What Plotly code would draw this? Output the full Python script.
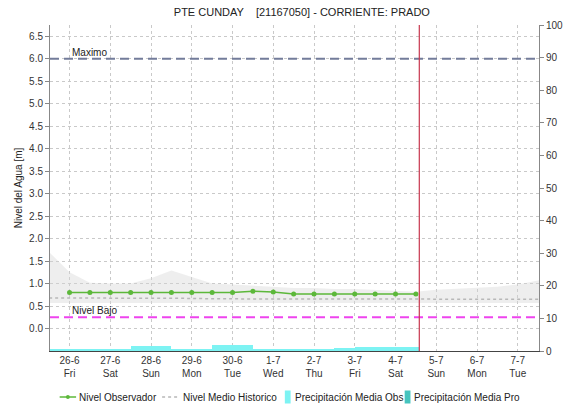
import plotly.graph_objects as go

# ---- data -------------------------------------------------------------
day_ticks = ["2015-06-26", "2015-06-27", "2015-06-28", "2015-06-29", "2015-06-30",
             "2015-07-01", "2015-07-02", "2015-07-03", "2015-07-04", "2015-07-05",
             "2015-07-06", "2015-07-07"]
day_labels = ["26-6<br>Fri", "27-6<br>Sat", "28-6<br>Sun", "29-6<br>Mon", "30-6<br>Tue",
              "1-7<br>Wed", "2-7<br>Thu", "3-7<br>Fri", "4-7<br>Sat", "5-7<br>Sun",
              "6-7<br>Mon", "7-7<br>Tue"]

obs_time = ["2015-06-26 00:00", "2015-06-26 12:00", "2015-06-27 00:00", "2015-06-27 12:00",
            "2015-06-28 00:00", "2015-06-28 12:00", "2015-06-29 00:00", "2015-06-29 12:00",
            "2015-06-30 00:00", "2015-06-30 12:00", "2015-07-01 00:00", "2015-07-01 12:00",
            "2015-07-02 00:00", "2015-07-02 12:00", "2015-07-03 00:00", "2015-07-03 12:00",
            "2015-07-04 00:00", "2015-07-04 12:00"]
obs_level = [0.80, 0.80, 0.80, 0.80, 0.80, 0.80, 0.80, 0.80,
             0.80, 0.83, 0.81, 0.77, 0.77, 0.77, 0.77, 0.77, 0.77, 0.77]

hist_time = ["2015-06-25 12:00", "2015-06-26 00:00", "2015-06-26 12:00", "2015-06-27 00:00",
             "2015-06-27 12:00", "2015-06-28 00:00", "2015-06-28 12:00", "2015-06-29 00:00",
             "2015-06-29 12:00", "2015-06-30 00:00", "2015-06-30 12:00", "2015-07-01 00:00",
             "2015-07-01 12:00", "2015-07-02 00:00", "2015-07-02 12:00", "2015-07-03 00:00",
             "2015-07-03 12:00", "2015-07-04 00:00", "2015-07-04 12:00", "2015-07-05 00:00",
             "2015-07-05 12:00", "2015-07-06 00:00", "2015-07-06 12:00", "2015-07-07 00:00",
             "2015-07-07 12:00", "2015-07-08 00:00"]
hist_max = [1.70, 1.25, 1.02, 1.00, 1.00, 1.12, 1.29, 1.15, 1.00, 0.98, 0.95, 0.93,
            0.90, 0.90, 0.88, 0.88, 0.86, 0.84, 0.82, 0.86, 0.88, 0.90, 0.93, 0.98,
            1.07, 1.10]
hist_min = [0.57, 0.57, 0.57, 0.57, 0.57, 0.57, 0.57, 0.57, 0.57, 0.57, 0.57, 0.57,
            0.57, 0.57, 0.57, 0.57, 0.57, 0.57, 0.57, 0.57, 0.57, 0.57, 0.57, 0.57,
            0.57, 0.57]
hist_mean = [0.68, 0.68, 0.67, 0.67, 0.67, 0.67, 0.67, 0.67, 0.66, 0.66, 0.66, 0.66,
             0.66, 0.66, 0.66, 0.65, 0.65, 0.65, 0.65, 0.65, 0.65, 0.65, 0.65, 0.65,
             0.65, 0.65]

precip_time = ["2015-06-25 18:00", "2015-06-26 06:00", "2015-06-26 18:00", "2015-06-27 06:00",
               "2015-06-27 18:00", "2015-06-28 06:00", "2015-06-28 18:00", "2015-06-29 06:00",
               "2015-06-29 18:00", "2015-06-30 06:00", "2015-06-30 18:00", "2015-07-01 06:00",
               "2015-07-01 18:00", "2015-07-02 06:00", "2015-07-02 18:00", "2015-07-03 06:00",
               "2015-07-03 18:00", "2015-07-04 06:00"]
precip_obs = [0.4, 0.4, 0.6, 0.6, 1.4, 1.4, 0.7, 0.7, 1.8, 1.8, 0.7, 0.6,
              0.5, 0.6, 1.0, 1.1, 1.2, 1.3]
precip_tail_time = ["2015-07-04 13:00"]
precip_tail = [1.3]

pro_time = ["2015-07-05 06:00", "2015-07-05 18:00", "2015-07-06 06:00",
            "2015-07-06 18:00", "2015-07-07 06:00"]
pro_values = [0, 0, 0, 0, 0]

maximo = 6.0
nivel_bajo = 0.25
now_time = "2015-07-04 14:00"

TITLE = "PTE CUNDAY    [21167050] - CORRIENTE: PRADO"
legend_names = ["Nivel Observador", "Nivel Medio Historico",
                "Precipitación Media Obs", "Precipitación Media Pro"]

FONT = "Liberation Sans, Arial, sans-serif"
HALF_DAY_MS = 12 * 3600 * 1000
GREEN = "#5cb83a"
GRAY_MEAN = "#b8b8b8"
CYAN = "#7df3f3"
TEAL = "#45c4be"

fig = go.Figure()

# historic band (min..max)
fig.add_trace(go.Scatter(x=hist_time, y=hist_min, mode="lines", line=dict(width=0),
                         showlegend=False, hoverinfo="skip"))
fig.add_trace(go.Scatter(x=hist_time, y=hist_max, mode="lines", line=dict(width=0),
                         fill="tonexty", fillcolor="rgba(215,215,215,0.42)",
                         showlegend=False, hoverinfo="skip"))

# precipitation on secondary axis
fig.add_trace(go.Bar(x=precip_time, y=precip_obs, yaxis="y2", width=HALF_DAY_MS,
                     marker=dict(color=CYAN, line=dict(width=0)),
                     name=legend_names[2]))
fig.add_trace(go.Bar(x=precip_tail_time, y=precip_tail, yaxis="y2",
                     width=2 * 3600 * 1000,
                     marker=dict(color=CYAN, line=dict(width=0)),
                     name=legend_names[2]))
fig.add_trace(go.Bar(x=pro_time, y=pro_values, yaxis="y2", width=HALF_DAY_MS,
                     marker=dict(color=TEAL, line=dict(width=0)),
                     name=legend_names[3]))

# historic mean
fig.add_trace(go.Scatter(x=hist_time, y=hist_mean, mode="lines",
                         line=dict(color=GRAY_MEAN, width=1.5, dash="3px,3px"),
                         name=legend_names[1]))

# observed level
fig.add_trace(go.Scatter(x=obs_time, y=obs_level, mode="lines+markers",
                         line=dict(color=GREEN, width=1.5),
                         marker=dict(color=GREEN, size=5),
                         name=legend_names[0]))

# reference levels and current time
fig.add_shape(type="line", xref="paper", x0=0, x1=1, y0=maximo, y1=maximo,
              line=dict(color="#737c9a", width=2, dash="9px,5px"))
fig.add_shape(type="line", xref="paper", x0=0, x1=1, y0=nivel_bajo, y1=nivel_bajo,
              line=dict(color="#ee44ee", width=2, dash="9px,5px"))
fig.add_shape(type="line", yref="paper", x0=now_time, x1=now_time, y0=0, y1=1,
              line=dict(color="#c8364e", width=1.2))

fig.add_annotation(x="2015-06-26 00:00", y=maximo, text="Maximo", showarrow=False,
                   xanchor="left", yanchor="bottom", yshift=-1,
                   font=dict(size=10, color="#222"))
fig.add_annotation(x="2015-06-26 00:00", y=nivel_bajo, text="Nivel Bajo", showarrow=False,
                   xanchor="left", yanchor="bottom", yshift=-1,
                   font=dict(size=10, color="#222"))

# ---- legend row below the axis (paper coordinates) ----------------------
PLOT_L, PLOT_W, PLOT_B, PLOT_H = 50, 506, 351, 326


def px(x):
    return (x - PLOT_L) / PLOT_W


def py(y):
    return (PLOT_B - y) / PLOT_H


LEG_Y = 397
# green line with marker
fig.add_shape(type="line", xref="paper", yref="paper", x0=px(60), x1=px(77),
              y0=py(LEG_Y), y1=py(LEG_Y), line=dict(color=GREEN, width=1.5))
fig.add_shape(type="circle", xref="paper", yref="paper", x0=px(66.5), x1=px(70.5),
              y0=py(LEG_Y - 2), y1=py(LEG_Y + 2), fillcolor=GREEN, line=dict(width=0))
# dotted gray line
fig.add_shape(type="line", xref="paper", yref="paper", x0=px(166), x1=px(183),
              y0=py(LEG_Y), y1=py(LEG_Y),
              line=dict(color=GRAY_MEAN, width=1.5, dash="3px,3px"))
# precipitation boxes
fig.add_shape(type="rect", xref="paper", yref="paper", x0=px(293), x1=px(299),
              y0=py(LEG_Y - 6.5), y1=py(LEG_Y + 6.5), fillcolor=CYAN, line=dict(width=0))
fig.add_shape(type="rect", xref="paper", yref="paper", x0=px(417), x1=px(423),
              y0=py(LEG_Y - 6.5), y1=py(LEG_Y + 6.5), fillcolor=TEAL, line=dict(width=0))

for name, left in zip(legend_names, [78, 186, 301, 425]):
    fig.add_annotation(xref="paper", yref="paper", x=px(left), y=py(LEG_Y), text=name,
                       showarrow=False, xanchor="left", yanchor="middle",
                       font=dict(size=10, color="#222"))

grid = dict(showgrid=True, gridcolor="#c9c9c9", griddash="dot", gridwidth=1)

fig.update_layout(
    width=575, height=404,
    margin=dict(l=50, r=19, t=25, b=53),
    paper_bgcolor="white", plot_bgcolor="white",
    font=dict(family=FONT, size=10, color="#333"),
    title=dict(text=TITLE, x=0.525, xanchor="center", y=0.97, yanchor="middle",
               font=dict(size=11, color="#222")),
    barmode="overlay", bargap=0,
    showlegend=False,
    xaxis=dict(type="date", range=["2015-06-25 12:30", "2015-07-07 12:30"],
               tickmode="array", tickvals=day_ticks, ticktext=day_labels,
               ticks="", showline=True, linecolor="#444", linewidth=1,
               tickfont=dict(size=10, color="#333"), zeroline=False, **grid),
    yaxis=dict(range=[-0.5, 6.75], tickmode="array",
               tickvals=[0, 0.5, 1, 1.5, 2, 2.5, 3, 3.5, 4, 4.5, 5, 5.5, 6, 6.5],
               ticktext=["0.0", "0.5", "1.0", "1.5", "2.0", "2.5", "3.0", "3.5",
                         "4.0", "4.5", "5.0", "5.5", "6.0", "6.5"],
               ticks="outside", ticklen=4, tickcolor="#888",
               showline=True, linecolor="#888", linewidth=1, zeroline=False,
               title=dict(text="Nivel del Agua [m]", font=dict(size=10, color="#222"),
                          standoff=4),
               tickfont=dict(size=10, color="#333"), **grid),
    yaxis2=dict(range=[0, 100], overlaying="y", side="right", anchor="x",
                tickvals=[0, 10, 20, 30, 40, 50, 60, 70, 80, 90, 100],
                ticks="outside", ticklen=4, tickcolor="#888",
                showline=True, linecolor="#888", linewidth=1,
                showgrid=False, zeroline=False,
                tickfont=dict(size=10, color="#333")),
)

fig.write_html("out.html")
